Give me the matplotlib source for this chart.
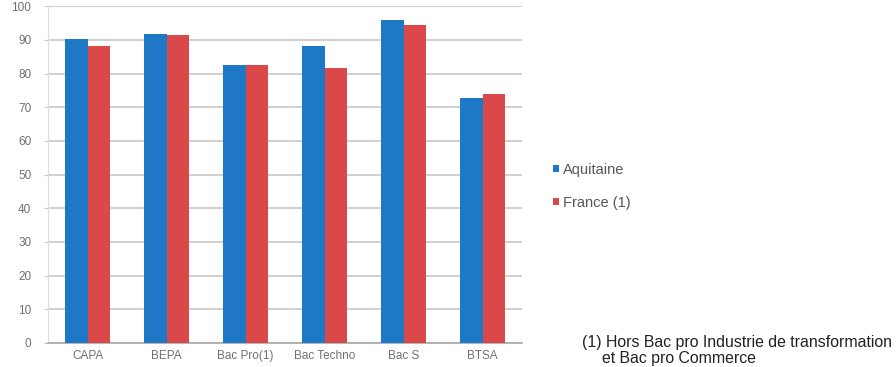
import numpy as np
from matplotlib import pyplot as plt

categories = ["CAPA", "BEPA", "Bac Pro(1)", "Bac Techno", "Bac S", "BTSA"]
aquitaine = [90.3, 91.7, 82.5, 88.2, 95.9, 72.7]
france = [88.1, 91.6, 82.5, 81.7, 94.5, 73.8]
series_names = ["Aquitaine", "France (1)"]
yticks = [0, 10, 20, 30, 40, 50, 60, 70, 80, 90, 100]
note1 = "(1) Hors Bac pro Industrie de transformation"
note2 = "et Bac pro Commerce"

blue = "#1F78C6"
red = "#DA4849"
grey_txt = "#707070"
plt.rcParams['font.family'] = ['Liberation Sans Narrow', 'Liberation Sans', 'DejaVu Sans']

fig = plt.figure(figsize=(8.96, 3.67), dpi=100)
ax = fig.add_axes([0.0536, 0.0654, 0.529, 0.9175])

x = np.arange(len(categories))
w = 0.28
ax.bar(x - w/2, aquitaine, w, color=blue, label=series_names[0], zorder=3)
ax.bar(x + w/2, france, w, color=red, label=series_names[1], zorder=3)

ax.set_xlim(-0.5, len(categories) - 0.5)
ax.set_ylim(0, 100)
ax.set_yticks(yticks)
ax.set_xticks(x)
ax.set_xticklabels(categories)
ax.grid(axis="y", color="#c8c8c8", linewidth=1.2, zorder=0)
for s in ["top", "right"]:
    ax.spines[s].set_visible(False)
ax.spines["left"].set_color("#dcdcdc")
ax.spines["bottom"].set_color("#a8a8a8")
ax.spines["bottom"].set_linewidth(1.2)
ax.tick_params(axis="y", length=3, color="#c8c8c8", pad=9, labelsize=8.5, labelcolor=grey_txt)
ax.tick_params(axis="x", length=0, pad=5, labelsize=8.5, labelcolor=grey_txt)

leg = ax.legend(loc="center left", bbox_to_anchor=(1.038, 0.465), frameon=False,
                handlelength=0.4, handleheight=0.4, handletextpad=0.3,
                labelspacing=1.3, fontsize=10.5)
for t in leg.get_texts():
    t.set_color("#555555")

fig.text(582 / 896, 1 - 342 / 367, note1, fontsize=11.4, color="#222222", va="center")
fig.text(602 / 896, 1 - 358 / 367, note2, fontsize=11.4, color="#222222", va="center")

plt.savefig("out.png", dpi=100)
